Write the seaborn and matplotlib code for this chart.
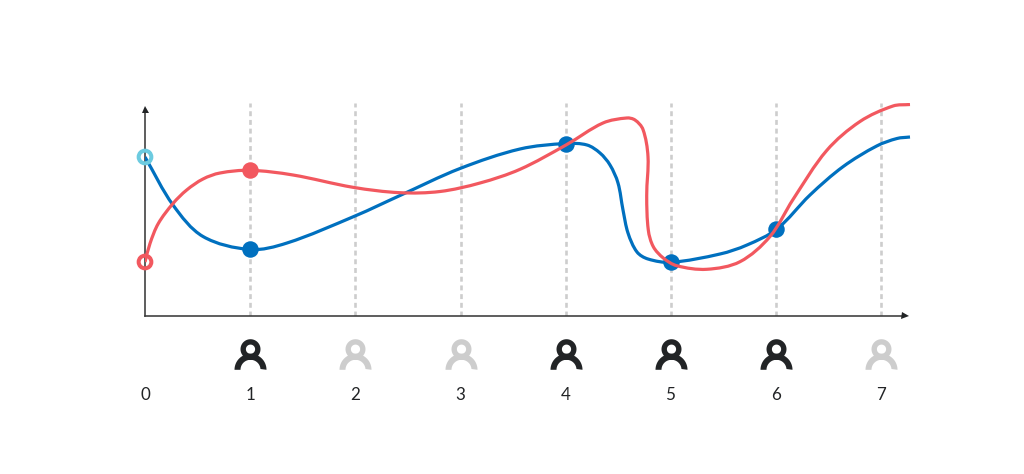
"""Two smooth curves over eight numbered steps, with a person icon per step."""

import matplotlib

matplotlib.use("Agg")

import matplotlib.pyplot as plt
import numpy as np
import seaborn as sns
from matplotlib.patches import PathPatch
from matplotlib.path import Path

# x is the distance from the y axis, y the height above the x axis
BLUE_X = [0, 28, 58, 105, 142, 210, 255, 315, 375, 421, 442, 455, 465, 473,
          478, 483, 492, 503, 526, 575, 602, 632, 665, 698, 731.7, 752, 765]
BLUE_Y = [158.5, 110.5, 79, 66, 72.5, 99.5, 120, 147, 166.5, 172, 170.5,
          162.5, 150.5, 132.5, 105.5, 82.5, 63.5, 56.5, 53.2, 61.5, 70.5, 86.5,
          120.5, 148.8, 169.5, 177, 178.5]
RED_X = [0, 5, 13.3, 28, 41.7, 58, 75, 105, 148, 208, 255, 295, 335, 375, 421, 458, 481.7,
         490, 498, 503, 501.7, 503.3, 508.3, 518.3, 531.7, 561.7, 595, 625, 648, 681.7,
         715, 748, 765]
RED_Y = [53.5, 72, 92, 112, 125.5, 136.5, 142.5, 145.2, 140.5, 128.2, 122.8, 124, 132.5, 146.2,
         170.5, 192.5, 197.5, 195.5, 186, 158.8, 120, 85.5, 68.8, 57.5, 49.8, 46.2, 53.8,
         79, 116, 165, 194, 209.5, 211]

STEP = 105.2
STEPS = [0, 1, 2, 3, 4, 5, 6, 7]
ACTIVE = [None, True, False, False, True, True, True, False]

BLUE_DOT_STEPS = [1, 4, 5, 6]
BLUE_DOT_Y = [66.5, 172, 53.2, 86.5]
RED_DOT_STEPS = [1]
RED_DOT_Y = [145.2]
START_BLUE_Y = [158.5]
START_RED_Y = [53.5]

BLUE = "#0070BF"
RED = "#F2585F"
LIGHT_BLUE = "#6CCBE0"
INK = "#222426"
GREY = "#CDCDCD"

W, H = 1024, 474
LEFT, RIGHT, TOP, BASE = 145, 912, 103, 315.5
ARROW_X, ARROW_Y = 904.5 - LEFT, BASE - 108.5
PX = 72 / 100


def smooth_path(xs, ys) -> Path:
    """Smooth curve through the read values (Catmull-Rom as cubic segments)."""
    p = np.c_[xs, ys]
    t = np.r_[0, np.cumsum(np.hypot(*np.diff(p, axis=0).T))]
    m = np.zeros_like(p)
    m[1:-1] = (p[2:] - p[:-2]) / (t[2:] - t[:-2])[:, None]
    m[0] = (p[1] - p[0]) / (t[1] - t[0])
    m[-1] = (p[-1] - p[-2]) / (t[-1] - t[-2])
    verts, codes = [p[0]], [Path.MOVETO]
    for i in range(len(p) - 1):
        dt = t[i + 1] - t[i]
        verts += [p[i] + m[i] * dt / 3, p[i + 1] - m[i + 1] * dt / 3, p[i + 1]]
        codes += [Path.CURVE4] * 3
    return Path(verts, codes)


def person_marker() -> Path:
    """Person icon: a ring for the head over a half ring for the shoulders."""
    t = np.linspace(0, 2 * np.pi, 60)
    head = np.c_[10 * np.cos(t), 5.3 + 10 * np.sin(t)]
    hole = np.c_[4.6 * np.cos(t[::-1]), 5.3 + 4.6 * np.sin(t[::-1])]
    a = np.linspace(0, np.pi, 40)
    body = np.r_[
        np.c_[16 * np.cos(a), -15.3 + 16 * np.sin(a)],
        np.c_[10 * np.cos(a[::-1]), -15.3 + 10 * np.sin(a[::-1])],
    ]
    return Path.make_compound_path(
        Path(head, closed=True), Path(hole, closed=True), Path(body, closed=True)
    )


def main() -> None:
    sns.set_theme(style="white")
    plt.rcParams["font.family"] = ["Lato", "DejaVu Sans"]

    fig = plt.figure(figsize=(W / 100, H / 100), dpi=100)
    ax = fig.add_axes([LEFT / W, 1 - BASE / H, (RIGHT - LEFT) / W, (BASE - TOP) / H])
    ax.set_xlim(0, RIGHT - LEFT)
    ax.set_ylim(0, BASE - TOP)
    ax.patch.set_alpha(0)

    ax.vlines(
        [s * STEP for s in STEPS[1:]], 0, BASE - TOP,
        color=GREY, lw=2.6 * PX, linestyle=(0, (1.9, 1.45)), zorder=1,
    )

    ax.add_patch(PathPatch(smooth_path(BLUE_X, BLUE_Y), fill=False, edgecolor=BLUE,
                           lw=3.2 * PX, zorder=3, capstyle="butt"))
    sns.scatterplot(x=[s * STEP for s in BLUE_DOT_STEPS], y=BLUE_DOT_Y, color=BLUE,
                    s=(16.5 * PX) ** 2, linewidth=0, ax=ax, zorder=4)
    ax.add_patch(PathPatch(smooth_path(RED_X, RED_Y), fill=False, edgecolor=RED,
                           lw=3.2 * PX, zorder=5, capstyle="butt"))
    sns.scatterplot(x=[s * STEP for s in RED_DOT_STEPS], y=RED_DOT_Y, color=RED,
                    s=(16.5 * PX) ** 2, linewidth=0, ax=ax, zorder=6)

    ax.scatter([0], START_BLUE_Y, s=(12.7 * PX) ** 2, facecolors="none",
               edgecolors=LIGHT_BLUE, linewidths=4 * PX, zorder=7, clip_on=False)
    ax.scatter([0], START_RED_Y, s=(12.7 * PX) ** 2, facecolors="none",
               edgecolors=RED, linewidths=4 * PX, zorder=7, clip_on=False)

    # icons sit under the axis, in the same x scale as the steps
    marker = person_marker()
    for flag, colour in ((True, INK), (False, GREY)):
        xs = [s * STEP for s, a in zip(STEPS, ACTIVE) if a is flag]
        ax.scatter(xs, [BASE - 353.65] * len(xs), marker=marker, s=(32 * PX) ** 2,
                   color=colour, linewidths=0, clip_on=False, zorder=3)

    sns.despine(ax=ax)
    ax.spines["left"].set_bounds(0, ARROW_Y)
    ax.spines["bottom"].set_bounds(0, ARROW_X)
    for side in ("left", "bottom"):
        ax.spines[side].set_color("#3A3A3A")
        ax.spines[side].set_linewidth(1.6 * PX)
    ax.plot(ARROW_X, 0, marker=">", color=INK, ms=7 * PX, mew=0, clip_on=False, zorder=8)
    ax.plot(0, ARROW_Y, marker="^", color=INK, ms=7 * PX, mew=0, clip_on=False, zorder=8)

    ax.set_yticks([])
    ax.set_xticks([s * STEP for s in STEPS], labels=[str(s) for s in STEPS])
    ax.tick_params(axis="x", length=0, pad=(387 - BASE) * PX, labelsize=17 * PX, labelcolor=INK)
    ax.set_xlabel("")
    ax.set_ylabel("")

    fig.savefig("out.png", dpi=100, facecolor="white")
    plt.close(fig)


if __name__ == "__main__":
    main()
